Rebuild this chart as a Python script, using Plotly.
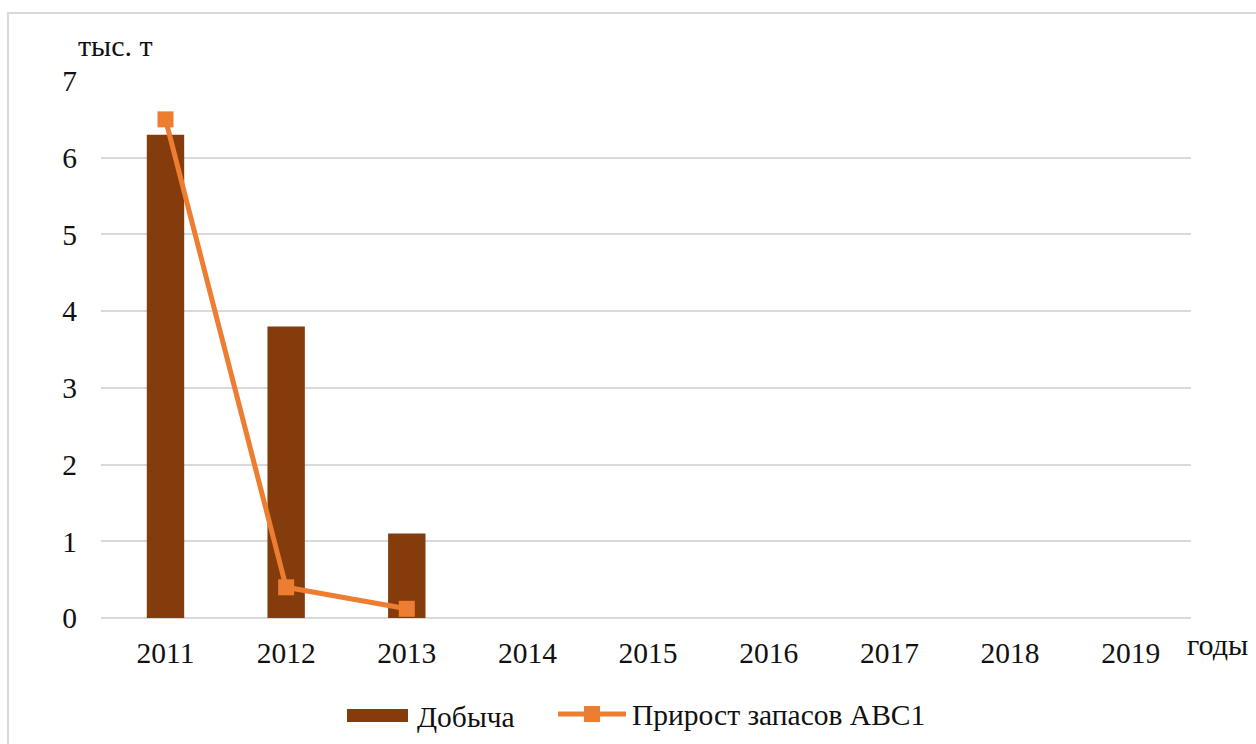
import plotly.graph_objects as go

# Data
years = ["2011", "2012", "2013", "2014", "2015", "2016", "2017", "2018", "2019"]
production = [6.3, 3.8, 1.1, None, None, None, None, None, None]
reserve_growth = [6.5, 0.4, 0.12]
production_name = "Добыча"
growth_name = "Прирост запасов ABC1"
y_ticks = [0, 1, 2, 3, 4, 5, 6, 7]

BAR_COLOR = "#843C0C"
LINE_COLOR = "#ED7D31"
GRID_COLOR = "#D9D9D9"
TEXT_COLOR = "#111111"
FONT = "Liberation Serif, Times New Roman, serif"

W, H = 1256, 744
L, R, T, B = 101, 65, 81, 126
PW, PH = W - L - R, H - T - B


def px(x):
    return (x - L) / PW


def py(y):
    return (H - B - y) / PH


fig = go.Figure()
fig.add_trace(go.Bar(
    x=years, y=production, name=production_name,
    marker=dict(color=BAR_COLOR, line=dict(width=0)),
    showlegend=False,
))
fig.add_trace(go.Scatter(
    x=years[:len(reserve_growth)], y=reserve_growth, name=growth_name,
    mode="lines+markers",
    line=dict(color=LINE_COLOR, width=5),
    marker=dict(symbol="square", size=16, color=LINE_COLOR),
    showlegend=False,
))

shapes = [
    # outer frame of the chart
    dict(type="rect", xref="paper", yref="paper",
         x0=px(8), x1=px(W + 10), y0=py(13), y1=py(H + 10),
         line=dict(color=GRID_COLOR, width=2), fillcolor="rgba(0,0,0,0)", layer="below"),
    # legend swatches
    dict(type="rect", xref="paper", yref="paper",
         x0=px(347), x1=px(408), y0=py(709), y1=py(722),
         line=dict(width=0), fillcolor=BAR_COLOR),
    dict(type="line", xref="paper", yref="paper",
         x0=px(558), x1=px(626), y0=py(714), y1=py(714),
         line=dict(color=LINE_COLOR, width=5)),
    dict(type="rect", xref="paper", yref="paper",
         x0=px(584), x1=px(600), y0=py(706), y1=py(722),
         line=dict(width=0), fillcolor=LINE_COLOR),
]

annotations = [
    dict(text="тыс. т", xref="paper", yref="paper", x=px(76), y=py(45),
         xanchor="left", yanchor="middle", showarrow=False,
         font=dict(size=30, color=TEXT_COLOR, family=FONT)),
    dict(text="годы", xref="paper", yref="paper", x=px(1185), y=py(644),
         xanchor="left", yanchor="middle", showarrow=False,
         font=dict(size=30, color=TEXT_COLOR, family=FONT)),
    dict(text=production_name, xref="paper", yref="paper", x=px(415), y=py(717),
         xanchor="left", yanchor="middle", showarrow=False,
         font=dict(size=29.5, color=TEXT_COLOR, family=FONT)),
    dict(text=growth_name, xref="paper", yref="paper", x=px(630), y=py(715),
         xanchor="left", yanchor="middle", showarrow=False,
         font=dict(size=29.5, color=TEXT_COLOR, family=FONT)),
]

fig.update_layout(
    width=W, height=H,
    margin=dict(l=L, r=R, t=T, b=B, pad=0),
    paper_bgcolor="white", plot_bgcolor="white",
    bargap=0.69,
    font=dict(family=FONT, size=29.5, color=TEXT_COLOR),
    shapes=shapes,
    annotations=annotations,
    showlegend=False,
)
fig.update_xaxes(
    type="category", categoryorder="array", categoryarray=years,
    showgrid=False, showline=False, zeroline=False,
    ticks="", ticklabelstandoff=14, automargin=False,
    tickfont=dict(size=29.5, family=FONT, color=TEXT_COLOR),
)
fig.update_yaxes(
    range=[0, 7], tickvals=y_ticks,
    showgrid=True, gridcolor=GRID_COLOR, gridwidth=2,
    zeroline=True, zerolinecolor=GRID_COLOR, zerolinewidth=2,
    showline=False, ticks="", ticklabelstandoff=23, automargin=False,
    tickfont=dict(size=29.5, family=FONT, color=TEXT_COLOR),
)

fig.write_html("out.html")
